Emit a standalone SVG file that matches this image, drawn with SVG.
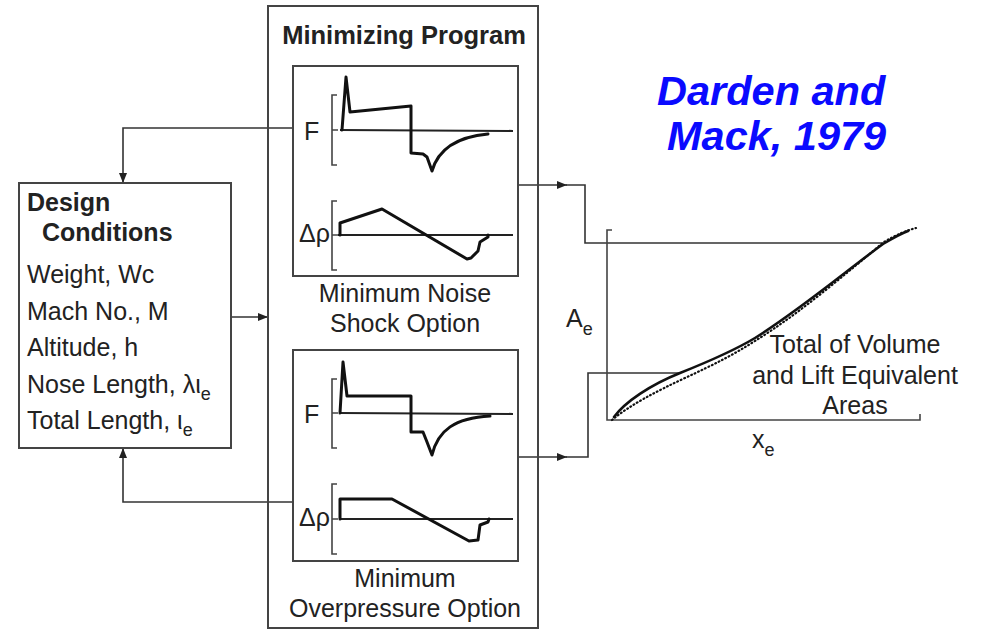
<svg xmlns="http://www.w3.org/2000/svg" width="982" height="631" viewBox="0 0 982 631">
  <style>
    .box { fill: none; stroke: #444; stroke-width: 2; }
    .conn { fill: none; stroke: #333; stroke-width: 1.6; }
    .axis { fill: none; stroke: #222; stroke-width: 2.2; }
    .wave { fill: none; stroke: #111; stroke-width: 3; stroke-linejoin: round; stroke-linecap: round; }
    .brk { fill: none; stroke: #444; stroke-width: 1.6; }
    .lbl { font-family: "Liberation Sans", Arial, sans-serif; font-size: 25px; fill: #222; }
    .bold { font-weight: bold; }
    .mid { text-anchor: middle; }
    .end { text-anchor: end; }
    .sub { font-size: 18px; }
    .title { font-family: "Liberation Sans", Arial, sans-serif; font-size: 41.5px; font-weight: bold; font-style: italic; fill: #0a0aff; }
  </style>
  <defs>
    <marker id="arrow" viewBox="0 0 10 8" refX="10" refY="4" markerWidth="10" markerHeight="8" markerUnits="userSpaceOnUse" orient="auto">
      <path d="M0,0 L10,4 L0,8 Z" fill="#222"/>
    </marker>
  </defs>

  <rect width="982" height="631" fill="#fff"/>

  <!-- citation -->
  <g id="citation">
    <text class="title" x="657" y="105">Darden and</text>
    <text class="title" x="667" y="150">Mack, 1979</text>
  </g>

  <!-- connectors -->
  <g id="connectors">
    <path class="conn" d="M293,128 H123 V183" marker-end="url(#arrow)"/>
    <path class="conn" d="M293,502 H123 V448" marker-end="url(#arrow)"/>
    <path class="conn" d="M231,317 H268" marker-end="url(#arrow)"/>
    <path class="conn" d="M518,185 H567" marker-end="url(#arrow)"/>
    <path class="conn" d="M566,185 H585 V243 H883"/>
    <path class="conn" d="M518,457 H567" marker-end="url(#arrow)"/>
    <path class="conn" d="M566,457 H588 V373 H680"/>
  </g>

  <!-- design conditions -->
  <g id="design-conditions">
    <rect class="box" x="19" y="183" width="212" height="265"/>
    <text class="lbl bold" x="27" y="211">Design</text>
    <text class="lbl bold" x="42" y="241">Conditions</text>
    <text class="lbl" x="27" y="283">Weight, Wc</text>
    <text class="lbl" x="27" y="320">Mach No., M</text>
    <text class="lbl" x="27" y="356">Altitude, h</text>
    <text class="lbl" x="27" y="393">Nose Length, λι<tspan class="sub" dy="7">e</tspan></text>
    <text class="lbl" x="27" y="429">Total Length, ι<tspan class="sub" dy="7">e</tspan></text>
  </g>

  <!-- minimizing program -->
  <g id="minimizing-program">
    <rect class="box" x="268" y="6" width="270" height="622"/>
    <text class="lbl bold mid" x="404" y="44" style="font-size:25.5px">Minimizing Program</text>
  </g>

  <!-- minimum noise shock option -->
  <g id="min-noise">
    <rect class="box" x="293" y="66" width="225" height="210"/>
    <text class="lbl" x="304" y="140">F</text>
    <path class="brk" d="M337,95 H332 V165 H337 M332,130 H338"/>
    <path class="axis" d="M340,130 L513,131"/>
    <path class="wave" d="M342,130 L346,77 L350,112 L411,106 L411,153 L423,154 L427,157 L432,171 C438,150 455,137 488,134"/>
    <text class="lbl end" x="330" y="242">Δρ</text>
    <path class="brk" d="M337,201 H332 V270 H337 M332,235 H338"/>
    <path class="axis" d="M338,235 L513,235"/>
    <path class="wave" d="M340,235 L340,223 L382,209 L467,259 L471,258 L478,251 L480,242 L488,237 L488,235"/>
    <text class="lbl mid" x="405" y="302">Minimum Noise</text>
    <text class="lbl mid" x="405" y="332">Shock Option</text>
  </g>

  <!-- minimum overpressure option -->
  <g id="min-overpressure">
    <rect class="box" x="293" y="350" width="225" height="211"/>
    <text class="lbl" x="304" y="423">F</text>
    <path class="brk" d="M337,379 H332 V448 H337 M332,413 H338"/>
    <path class="axis" d="M340,413 L513,414"/>
    <path class="wave" d="M340,413 L343,362 L347,396 L411,396 L411,432 L423,432 L427,442 L432,455 C438,430 455,418 490,416"/>
    <text class="lbl end" x="330" y="526">Δρ</text>
    <path class="brk" d="M337,484 H332 V554 H337 M332,519 H338"/>
    <path class="axis" d="M340,519 L513,519"/>
    <path class="wave" d="M340,519 L340,499 L392,499 L469,541 L478,540 L480,525 L488,522 L489,519"/>
    <text class="lbl mid" x="405" y="587">Minimum</text>
    <text class="lbl mid" x="405" y="617">Overpressure Option</text>
  </g>

  <!-- equivalent area plot -->
  <g id="area-plot">
    <path class="brk" d="M612,230 H607 V420 H920 V414"/>
    <path fill="none" stroke="#111" stroke-width="2.6" stroke-linecap="round" d="M614,417 C625,402 650,385 680,373 C710,361 735,350 755,338 C800,310 850,268 883,244 C893,238 900,234 908,231"/>
    <path fill="none" stroke="#111" stroke-width="2.2" stroke-linecap="round" stroke-dasharray="0.8 3" d="M612,420 C630,405 655,392 685,378 C715,364 735,354 758,339 C803,311 850,270 884,242 C896,235 905,231 916,228"/>
    <text class="lbl" x="566" y="327">A<tspan class="sub" dy="8">e</tspan></text>
    <text class="lbl" x="752" y="448">x<tspan class="sub" dy="8">e</tspan></text>
    <text class="lbl mid" x="855" y="353">Total of Volume</text>
    <text class="lbl mid" x="855" y="384">and Lift Equivalent</text>
    <text class="lbl mid" x="855" y="414">Areas</text>
  </g>
</svg>
